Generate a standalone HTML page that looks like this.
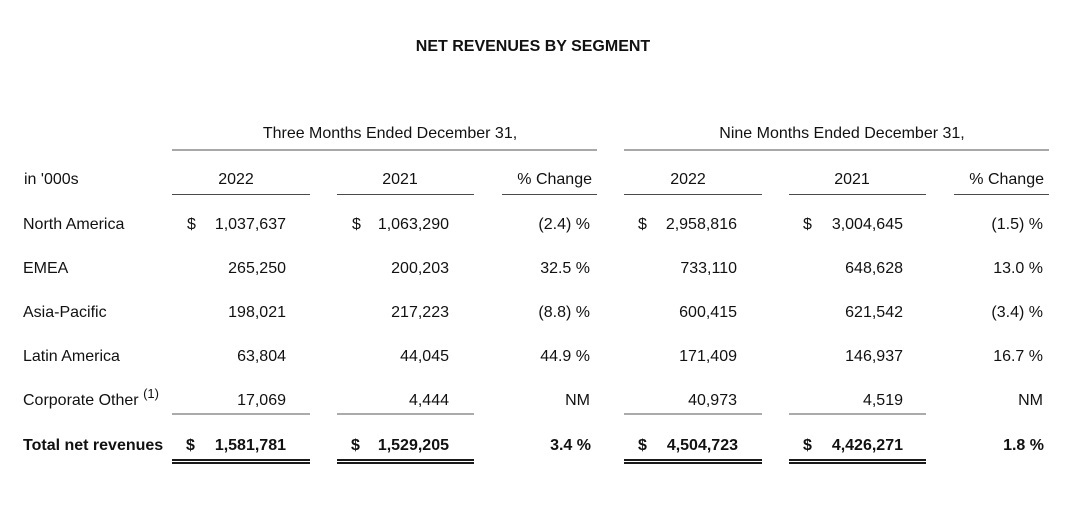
<!DOCTYPE html>
<html>
<head>
<meta charset="utf-8">
<style>
  html, body { margin:0; padding:0; background:#fff; }
  body { width:1080px; height:508px; position:relative; overflow:hidden;
         font-family:"Liberation Sans", Arial, sans-serif; font-size:16px; color:#111; }
  .t { position:absolute; line-height:16px; white-space:nowrap; }
  .r { text-align:right; }
  .c { text-align:center; }
  .b { font-weight:bold; }
  .ln { position:absolute; }
  .gray2 { height:2px; background:#a8a8a8; }
  .dark1 { height:1px; background:#4a4a4a; }
  .gray15 { height:2px; background:#ababab; }
  .dbl { height:5px; border-top:2px solid #1a1a1a; border-bottom:2px solid #1a1a1a; box-sizing:border-box; }
  sup { font-size:13px; vertical-align:7px; line-height:0; }
</style>
</head>
<body>

<!-- Title -->
<div class="t b c" style="left:333px; width:400px; top:39px;">NET REVENUES BY SEGMENT</div>

<!-- Group headers -->
<div class="t c" style="left:190px; width:400px; top:126px;">Three Months Ended December 31,</div>
<div class="t c" style="left:642px; width:400px; top:126px;">Nine Months Ended December 31,</div>

<div class="ln gray2" style="left:172px; width:425px; top:149px;"></div>
<div class="ln gray2" style="left:624px; width:425px; top:149px;"></div>

<!-- Column headers -->
<div class="t" style="left:24px; top:172px;">in '000s</div>
<div class="t c" style="left:186px; width:100px; top:172px;">2022</div>
<div class="t c" style="left:350px; width:100px; top:172px;">2021</div>
<div class="t r" style="left:492px; width:100px; top:172px;">% Change</div>
<div class="t c" style="left:638px; width:100px; top:172px;">2022</div>
<div class="t c" style="left:802px; width:100px; top:172px;">2021</div>
<div class="t r" style="left:944px; width:100px; top:172px;">% Change</div>

<div class="ln dark1" style="left:172px; width:138px; top:194px;"></div>
<div class="ln dark1" style="left:337px; width:137px; top:194px;"></div>
<div class="ln dark1" style="left:502px; width:95px; top:194px;"></div>
<div class="ln dark1" style="left:624px; width:138px; top:194px;"></div>
<div class="ln dark1" style="left:789px; width:137px; top:194px;"></div>
<div class="ln dark1" style="left:954px; width:95px; top:194px;"></div>

<!-- North America -->
<div class="t" style="left:23px; top:217px;">North America</div>
<div class="t" style="left:187px; top:217px;">$</div>
<div class="t r" style="left:186px; width:100px; top:217px;">1,037,637</div>
<div class="t" style="left:352px; top:217px;">$</div>
<div class="t r" style="left:349px; width:100px; top:217px;">1,063,290</div>
<div class="t r" style="left:490px; width:100px; top:217px;">(2.4) %</div>
<div class="t" style="left:638px; top:217px;">$</div>
<div class="t r" style="left:637px; width:100px; top:217px;">2,958,816</div>
<div class="t" style="left:803px; top:217px;">$</div>
<div class="t r" style="left:803px; width:100px; top:217px;">3,004,645</div>
<div class="t r" style="left:943px; width:100px; top:217px;">(1.5) %</div>

<!-- EMEA -->
<div class="t" style="left:23px; top:261px;">EMEA</div>
<div class="t r" style="left:186px; width:100px; top:261px;">265,250</div>
<div class="t r" style="left:349px; width:100px; top:261px;">200,203</div>
<div class="t r" style="left:490px; width:100px; top:261px;">32.5 %</div>
<div class="t r" style="left:637px; width:100px; top:261px;">733,110</div>
<div class="t r" style="left:803px; width:100px; top:261px;">648,628</div>
<div class="t r" style="left:943px; width:100px; top:261px;">13.0 %</div>

<!-- Asia-Pacific -->
<div class="t" style="left:23px; top:305px;">Asia-Pacific</div>
<div class="t r" style="left:186px; width:100px; top:305px;">198,021</div>
<div class="t r" style="left:349px; width:100px; top:305px;">217,223</div>
<div class="t r" style="left:490px; width:100px; top:305px;">(8.8) %</div>
<div class="t r" style="left:637px; width:100px; top:305px;">600,415</div>
<div class="t r" style="left:803px; width:100px; top:305px;">621,542</div>
<div class="t r" style="left:943px; width:100px; top:305px;">(3.4) %</div>

<!-- Latin America -->
<div class="t" style="left:23px; top:349px;">Latin America</div>
<div class="t r" style="left:186px; width:100px; top:349px;">63,804</div>
<div class="t r" style="left:349px; width:100px; top:349px;">44,045</div>
<div class="t r" style="left:490px; width:100px; top:349px;">44.9 %</div>
<div class="t r" style="left:637px; width:100px; top:349px;">171,409</div>
<div class="t r" style="left:803px; width:100px; top:349px;">146,937</div>
<div class="t r" style="left:943px; width:100px; top:349px;">16.7 %</div>

<!-- Corporate Other -->
<div class="t" style="left:23px; top:393px;">Corporate Other <sup>(1)</sup></div>
<div class="t r" style="left:186px; width:100px; top:393px;">17,069</div>
<div class="t r" style="left:349px; width:100px; top:393px;">4,444</div>
<div class="t r" style="left:490px; width:100px; top:393px;">NM</div>
<div class="t r" style="left:637px; width:100px; top:393px;">40,973</div>
<div class="t r" style="left:803px; width:100px; top:393px;">4,519</div>
<div class="t r" style="left:943px; width:100px; top:393px;">NM</div>

<div class="ln gray15" style="left:172px; width:138px; top:413px;"></div>
<div class="ln gray15" style="left:337px; width:137px; top:413px;"></div>
<div class="ln gray15" style="left:624px; width:138px; top:413px;"></div>
<div class="ln gray15" style="left:789px; width:137px; top:413px;"></div>

<!-- Total -->
<div class="t b" style="left:23px; top:438px;">Total net revenues</div>
<div class="t b" style="left:186px; top:438px;">$</div>
<div class="t b r" style="left:186px; width:100px; top:438px;">1,581,781</div>
<div class="t b" style="left:351px; top:438px;">$</div>
<div class="t b r" style="left:349px; width:100px; top:438px;">1,529,205</div>
<div class="t b r" style="left:491px; width:100px; top:438px;">3.4 %</div>
<div class="t b" style="left:638px; top:438px;">$</div>
<div class="t b r" style="left:638px; width:100px; top:438px;">4,504,723</div>
<div class="t b" style="left:803px; top:438px;">$</div>
<div class="t b r" style="left:803px; width:100px; top:438px;">4,426,271</div>
<div class="t b r" style="left:944px; width:100px; top:438px;">1.8 %</div>

<div class="ln dbl" style="left:172px; width:138px; top:459px;"></div>
<div class="ln dbl" style="left:337px; width:137px; top:459px;"></div>
<div class="ln dbl" style="left:624px; width:138px; top:459px;"></div>
<div class="ln dbl" style="left:789px; width:137px; top:459px;"></div>

</body>
</html>
